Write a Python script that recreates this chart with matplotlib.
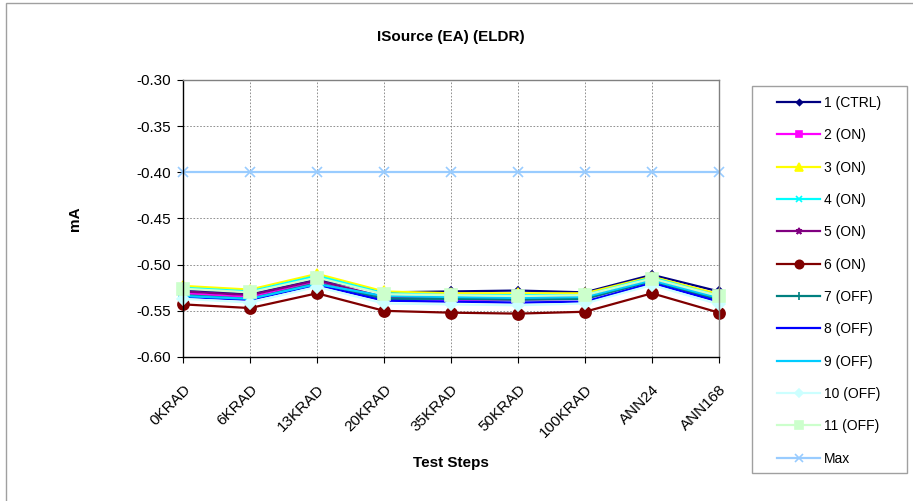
import numpy as np
import matplotlib
matplotlib.use("Agg")
import matplotlib.pyplot as plt
from matplotlib.patches import Rectangle

plt.rcParams['font.family'] = ['Liberation Sans', 'DejaVu Sans']

# test steps
steps = ['0KRAD', '6KRAD', '13KRAD', '20KRAD', '35KRAD', '50KRAD', '100KRAD', 'ANN24', 'ANN168']

# values (mA)
s1_ctrl = [-0.527, -0.532, -0.516, -0.530, -0.529, -0.528, -0.530, -0.511, -0.529]
s2_on = [-0.531, -0.535, -0.519, -0.537, -0.538, -0.538, -0.537, -0.517, -0.539]
s3_on = [-0.523, -0.527, -0.510, -0.529, -0.531, -0.531, -0.531, -0.513, -0.532]
s4_on = [-0.525, -0.529, -0.512, -0.531, -0.533, -0.533, -0.533, -0.514, -0.534]
s5_on = [-0.529, -0.533, -0.517, -0.535, -0.536, -0.536, -0.535, -0.516, -0.537]
s6_on = [-0.543, -0.547, -0.531, -0.550, -0.552, -0.553, -0.551, -0.531, -0.552]
s7_off = [-0.533, -0.537, -0.520, -0.537, -0.537, -0.538, -0.537, -0.518, -0.538]
s8_off = [-0.535, -0.538, -0.522, -0.539, -0.540, -0.541, -0.540, -0.520, -0.540]
s9_off = [-0.534, -0.537, -0.521, -0.534, -0.535, -0.536, -0.535, -0.517, -0.536]
s10_off = [-0.537, -0.541, -0.524, -0.542, -0.543, -0.544, -0.542, -0.522, -0.543]
s11_off = [-0.526, -0.530, -0.514, -0.532, -0.533, -0.534, -0.533, -0.515, -0.534]
max_limit = [-0.40] * len(steps)

series = [
    ('1 (CTRL)', s1_ctrl, '#000080', 'D', 4),
    ('2 (ON)', s2_on, '#FF00FF', 's', 6),
    ('3 (ON)', s3_on, '#FFFF00', '^', 7),
    ('4 (ON)', s4_on, '#00FFFF', 'x', 6),
    ('5 (ON)', s5_on, '#800080', '*', 6),
    ('6 (ON)', s6_on, '#800000', 'o', 8),
    ('7 (OFF)', s7_off, '#008080', '+', 7),
    ('8 (OFF)', s8_off, '#0000FF', '_', 6),
    ('9 (OFF)', s9_off, '#00CCFF', '_', 7),
    ('10 (OFF)', s10_off, '#CCFFFF', 'D', 6),
    ('11 (OFF)', s11_off, '#CCFFCC', 's', 8),
    ('Max', max_limit, '#99CCFF', 'x', 7),
]

W, H = 913, 501
fig = plt.figure(figsize=(W / 100, H / 100), dpi=100)

# chart area border (only left/top visible in the reference)
fig.patches.append(Rectangle((6 / W, -0.05), 1.1, 1 - 3 / H + 0.05, transform=fig.transFigure,
                             fill=False, edgecolor='#a0a0a0', lw=1.0))

ax = fig.add_axes([183 / W, 1 - 357 / H, (719 - 183) / W, (357 - 80) / H])

x = np.arange(len(steps))
lines = []
for name, vals, col, mk, ms in series:
    ln, = ax.plot(x, vals, color=col, marker=mk, markersize=ms, lw=1.6,
                  markeredgecolor=col, markeredgewidth=1.2, label=name, clip_on=False)
    lines.append(ln)

ax.set_xlim(0, len(steps) - 1)
ax.set_ylim(-0.60, -0.30)
yt = np.arange(-0.60, -0.299, 0.05)
ax.set_yticks(yt)
ax.set_yticklabels([f'{v:.2f}' for v in yt], fontsize=11)
ax.set_xticks(x)
ax.set_xticklabels(steps, rotation=45, ha='right', rotation_mode='anchor', fontsize=11)
ax.grid(True, color='#808080', linestyle=(0, (2, 2)), lw=0.6)
ax.set_axisbelow(True)
ax.tick_params(axis='both', direction='out', length=4, width=0.8, color='black')
ax.tick_params(axis='x', pad=14)
ax.tick_params(axis='y', pad=5)
ax.spines['left'].set_color('black')
ax.spines['bottom'].set_color('black')
ax.spines['top'].set_color('#808080')
ax.spines['right'].set_color('#808080')
for sp in ax.spines.values():
    sp.set_linewidth(1.0)

ax.set_title('ISource (EA) (ELDR)', fontsize=11, fontweight='bold', pad=28)
ax.set_ylabel('mA', fontsize=11, fontweight='bold', labelpad=39)
ax.set_xlabel('Test Steps', fontsize=11, fontweight='bold', labelpad=12)

# legend box drawn separately, entries placed inside
fig.patches.append(Rectangle((752 / W, 1 - 473 / H), (907 - 752) / W, (473 - 86) / H,
                             transform=fig.transFigure, fill=True, facecolor='white',
                             edgecolor='#a0a0a0', lw=1.0))
leg = fig.legend(handles=lines, loc='upper left', bbox_to_anchor=(777 / W, 1 - 96 / H),
                 fontsize=10, frameon=False, handlelength=3.1, labelspacing=1.32,
                 borderpad=0, handletextpad=0.25, borderaxespad=0, markerscale=0.75)

fig.savefig('out.png', dpi=100)
